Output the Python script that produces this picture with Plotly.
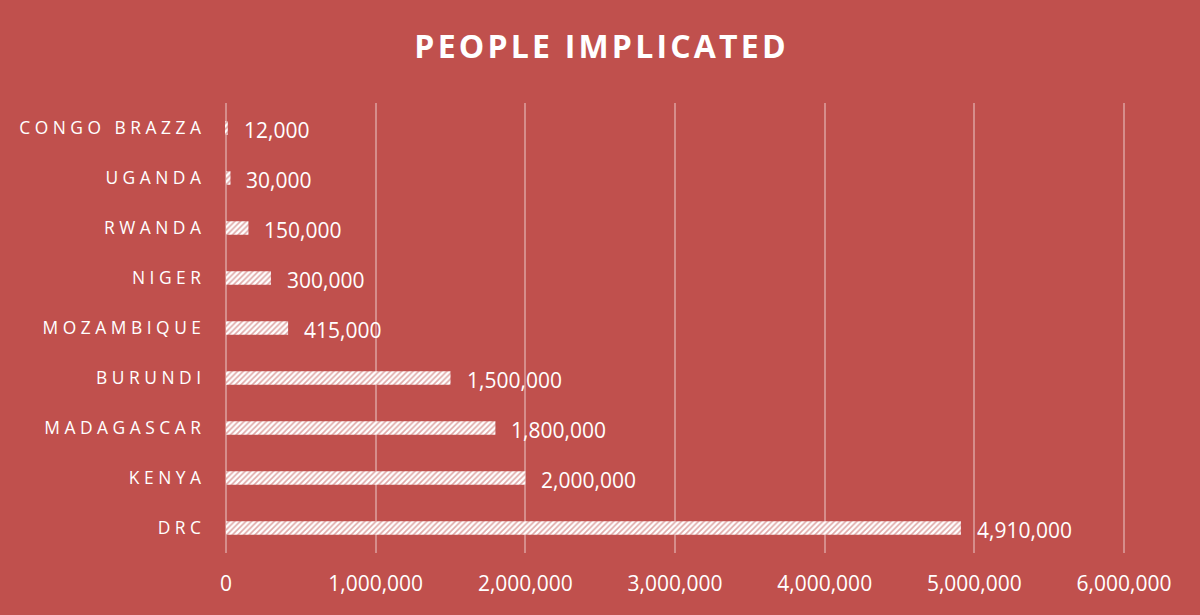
import plotly.graph_objects as go

countries = ["DRC", "KENYA", "MADAGASCAR", "BURUNDI", "MOZAMBIQUE", "NIGER", "RWANDA", "UGANDA", "CONGO BRAZZA"]
people = [4910000, 2000000, 1800000, 1500000, 415000, 300000, 150000, 30000, 12000]
x_ticks = [0, 1000000, 2000000, 3000000, 4000000, 5000000, 6000000]
x_tick_labels = ["0", "1,000,000", "2,000,000", "3,000,000", "4,000,000", "5,000,000", "6,000,000"]
title_text = "PEOPLE IMPLICATED"

BG = "#C0504D"
GRID = "rgba(255,255,255,0.35)"
HS = "\u200a"


def spread(s, sep):
    return sep.join(list(s))


spaced = [spread(c, " ") for c in countries]

fig = go.Figure(go.Bar(
    x=people, y=spaced, orientation="h", width=0.27,
    marker=dict(color="white", line=dict(width=0),
                pattern=dict(shape="/", fgcolor=BG, bgcolor="white", size=4, solidity=0.4)),
    hoverinfo="x+y",
))

for c, v in zip(spaced, people):
    fig.add_annotation(x=v, y=c, text=f"{v:,}", showarrow=False, xanchor="left", yanchor="middle",
                       xshift=14, yshift=-2, font=dict(family="Open Sans", size=21, color="white"))

fig.update_layout(
    width=1200, height=615, paper_bgcolor=BG, plot_bgcolor=BG,
    margin=dict(l=223, r=73, t=103, b=62),
    title=dict(text="<b>" + spread(title_text, HS) + "</b>", x=0.5, xanchor="center", y=0.924, yanchor="middle",
               font=dict(family="Open Sans", size=32, color="white")),
    showlegend=False,
    xaxis=dict(range=[-20000, 6020000], tickvals=x_ticks, ticktext=x_tick_labels,
               showgrid=True, gridcolor=GRID, gridwidth=1.5, zeroline=False,
               showline=False, ticks="", ticklabelstandoff=16,
               tickfont=dict(family="Open Sans", size=21, color="white")),
    yaxis=dict(range=[-0.5, 8.5], showgrid=False, zeroline=False, showline=False, ticks="",
               ticklabelstandoff=21, tickfont=dict(family="Open Sans", size=17.4, color="white")),
)
fig.write_html("out.html")
